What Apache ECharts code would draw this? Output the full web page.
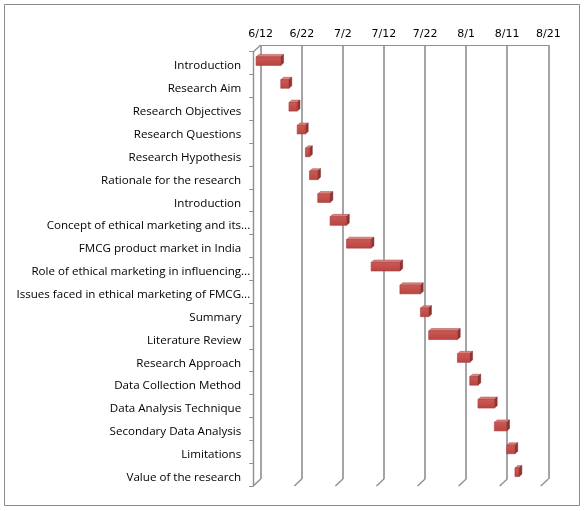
<!DOCTYPE html>
<html><head><meta charset="utf-8">
<script src="https://cdn.jsdelivr.net/npm/echarts@6/dist/echarts.min.js"></script>
<style>html,body{margin:0;padding:0;background:#fff}#c{width:585px;height:511px}</style>
</head><body><div id="c"></div>
<script>
const categories = ["Introduction","Research Aim","Research Objectives","Research Questions","Research Hypothesis","Rationale for the research","Introduction","Concept of ethical marketing and its...","FMCG product market in India","Role of ethical marketing in influencing...","Issues faced in ethical marketing of FMCG...","Summary","Literature Review","Research Approach","Data Collection Method","Data Analysis Technique","Secondary Data Analysis","Limitations","Value of the research"];
// start offset in days from 6/12, and duration in days
const startDays = [0,6,8,10,12,13,15,18,22,28,35,40,42,49,52,54,58,61,63];
const durations = [6,2,2,2,1,2,3,4,6,7,5,2,7,3,2,4,3,2,1];
const tickLabels = ["6/12","6/22","7/2","7/12","7/22","8/1","8/11","8/21"];
const tickValues = [0,10,20,30,40,50,60,70];

const chart = echarts.init(document.getElementById('c'), null, {renderer:'canvas'});
const gray = '#8f8f8f';
const DX = -7.5, DY = 7; // depth offset back->front
const BX = -4.6, BY = 4.7; // bar front face offset from back plane
const SX = 2.8, SY = -2.4; // bar side depth
const BH = 8.6;

const catItems = categories.map(c => ({
  value: c,
  textStyle: { padding: c.endsWith('...') ? [0,0,0,0] : [0,9,0,0] }
}));

const barData = categories.map((c,i)=>[startDays[i], startDays[i]+durations[i], i]);

chart.setOption({
  animation:false,
  graphic:[{type:'rect',shape:{x:4.5,y:4.5,width:575,height:501},style:{fill:null,stroke:'#8a8a8a',lineWidth:1},silent:true}],
  grid:[
    {left:260.7, top:45, width:287.6, height:434, containLabel:false},
    {left:253.2, top:51.7, width:287.6, height:434.3, containLabel:false},
    {left:253.2, top:54.7, width:287.6, height:434.3, containLabel:false}
  ],
  xAxis:[
    {gridIndex:0, type:'value', position:'top', min:0, max:70, interval:10,
     axisLine:{show:true, lineStyle:{color:gray,width:1}}, axisTick:{show:false},
     axisLabel:{margin:5, color:'#000', fontFamily:'DejaVu Sans', fontSize:11,
       formatter:(v)=>tickLabels[tickValues.indexOf(v)]},
     splitLine:{show:true, lineStyle:{color:gray, width:1.6}}},
    {gridIndex:1, type:'value', min:0, max:70, interval:10, show:false},
    {gridIndex:2, type:'value', min:0, max:70, interval:10, show:false}
  ],
  yAxis:[
    {gridIndex:0, type:'category', data:categories, inverse:true, show:false},
    {gridIndex:1, type:'category', data:categories, inverse:true,
     axisLine:{show:true, lineStyle:{color:gray,width:1.4}},
     axisTick:{show:true, inside:false, length:4, alignWithLabel:false, lineStyle:{color:gray}},
     axisLabel:{show:false}},
    {gridIndex:2, type:'category', data:catItems, inverse:true,
     axisLine:{show:false}, axisTick:{show:false},
     axisLabel:{margin:3, color:'#000', fontFamily:'Open Sans', fontSize:11.6}}
  ],
  series:[
    {type:'custom', xAxisIndex:0, yAxisIndex:0, silent:true, z:1,
     data: tickValues,
     renderItem:(params, api)=>{
       const v = api.value(0);
       const cs = params.coordSys;
       const x = api.coord([v,0])[0];
       const yb = cs.y + cs.height;
       const children = [{type:'line', shape:{x1:x,y1:yb,x2:x+DX,y2:yb+DY}, style:{stroke:gray,lineWidth:1.4}}];
       if (v===0) children.push({type:'line', shape:{x1:x,y1:cs.y,x2:x+DX,y2:cs.y+DY}, style:{stroke:gray,lineWidth:1.2}});
       return {type:'group', children};
     }},
    {type:'custom', xAxisIndex:0, yAxisIndex:0, silent:true, z:5,
     data: barData,
     encode:{x:[0,1], y:2},
     renderItem:(params, api)=>{
       const p0 = api.coord([api.value(0), api.value(2)]);
       const p1 = api.coord([api.value(1), api.value(2)]);
       const x0 = p0[0]+BX, x1 = p1[0]+BX;
       const yc = p0[1]+BY;
       const yt = yc - BH/2, yb2 = yc + BH/2;
       return {type:'group', children:[
         {type:'polygon', shape:{points:[[x0,yt],[x1,yt],[x1+SX,yt+SY],[x0+SX,yt+SY]]},
          style:{fill:'#d9827f', stroke:'#b24a47', lineWidth:0.5}},
         {type:'polygon', shape:{points:[[x1,yt],[x1+SX,yt+SY],[x1+SX,yb2+SY],[x1,yb2]]},
          style:{fill:'#8f3431', stroke:'#7a2b29', lineWidth:0.5}},
         {type:'rect', shape:{x:x0,y:yt,width:x1-x0,height:BH},
          style:{fill:new echarts.graphic.LinearGradient(0,0,0,1,[{offset:0,color:'#cc5a56'},{offset:1,color:'#b9433f'}]), stroke:'#a33c39', lineWidth:0.6}}
       ]};
     }}
  ]
});
</script></body></html>
